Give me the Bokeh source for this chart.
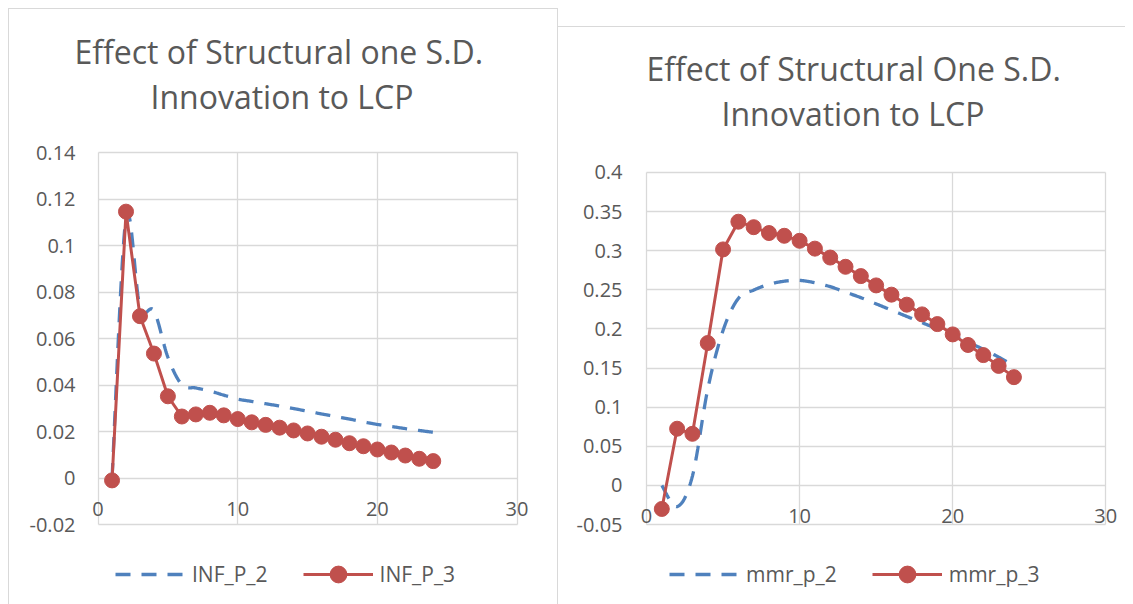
import numpy as np
from bokeh.plotting import figure
from bokeh.models import Title, Legend, LegendItem, FixedTicker, NumeralTickFormatter, Range1d
from bokeh.layouts import row, column
from bokeh.embed import file_html
from bokeh.resources import INLINE

# ---------------- data ----------------
periods = list(range(1, 25))

inf_p_2 = [0.000, 0.1120, 0.0735, 0.0720, 0.0520, 0.0402, 0.0388, 0.0375, 0.0357, 0.0340,
           0.0330, 0.0320, 0.0310, 0.0299, 0.0288, 0.0276, 0.0265, 0.0254, 0.0242, 0.0231,
           0.0222, 0.0213, 0.0205, 0.0197]
inf_p_3 = [-0.001, 0.1147, 0.0697, 0.0536, 0.0352, 0.0265, 0.0274, 0.0281, 0.0270, 0.0254,
           0.0240, 0.0229, 0.0217, 0.0205, 0.0192, 0.0178, 0.0165, 0.0150, 0.0137, 0.0123,
           0.0110, 0.0097, 0.0083, 0.0073]

mmr_p_2 = [0.000, -0.027, 0.012, 0.123, 0.198, 0.239, 0.2496, 0.257, 0.261, 0.262,
           0.259, 0.254, 0.247, 0.240, 0.232, 0.224, 0.216, 0.208, 0.200, 0.192,
           0.183, 0.174, 0.164, 0.153]
mmr_p_3 = [-0.030, 0.0725, 0.066, 0.182, 0.3016, 0.337, 0.330, 0.3225, 0.319, 0.3126,
           0.3026, 0.2912, 0.2794, 0.2675, 0.2556, 0.2438, 0.231, 0.2186, 0.2062, 0.193,
           0.1795, 0.1666, 0.1528, 0.1384]

left_names = ["INF_P_2", "INF_P_3"]
right_names = ["mmr_p_2", "mmr_p_3"]
left_title = ["Effect of Structural one S.D.", "Innovation to LCP"]
right_title = ["Effect of Structural One S.D.", "Innovation to LCP"]

x_ticks = [0, 10, 20, 30]
left_y_ticks = [-0.02, 0, 0.02, 0.04, 0.06, 0.08, 0.1, 0.12, 0.14]
right_y_ticks = [-0.05, 0, 0.05, 0.1, 0.15, 0.2, 0.25, 0.3, 0.35, 0.4]

# ---------------- style ----------------
BLUE = "#4F81BD"
RED = "#C0504D"
GRID = "#D9D9D9"
TEXT = "#595959"
FONT = "Open Sans"
BORDER = "1px solid #D9D9D9"
DASH = "15 11"


def smooth_path(xs, ys, n=20):
    """Excel-like smoothed line: cubic Bezier segments with Catmull-Rom control points."""
    pts = np.column_stack([np.asarray(xs, float), np.asarray(ys, float)])
    m = len(pts)
    out = [pts[0]]
    t = np.linspace(0, 1, n + 1)[1:, None]
    for i in range(m - 1):
        p0 = pts[i - 1] if i > 0 else pts[i]
        p1 = pts[i]
        p2 = pts[i + 1]
        p3 = pts[i + 2] if i + 2 < m else pts[i + 1]
        c1 = p1 + (p2 - p0) / 6.0
        c2 = p2 - (p3 - p1) / 6.0
        seg = ((1 - t) ** 3) * p1 + 3 * ((1 - t) ** 2) * t * c1 + 3 * (1 - t) * t ** 2 * c2 + t ** 3 * p2
        out.extend(seg)
    out = np.array(out)
    return out[:, 0], out[:, 1]


def draw_series(p, s2, s3):
    sx, sy = smooth_path(periods, s2)
    r2 = p.line(sx, sy, line_color=BLUE, line_width=3.3, line_dash=DASH)
    r3l = p.line(periods, s3, line_color=RED, line_width=3)
    r3s = p.scatter(periods, s3, size=15, marker="circle", fill_color=RED, line_color=RED)
    return r2, r3l, r3s


def make_plot(s2, s3, title_lines, yticks, xr, yr, xaxis_at, width, height, mb,
              title_offsets, styles):
    p = figure(width=width, height=height, x_range=Range1d(*xr), y_range=Range1d(*yr),
               output_backend="svg", toolbar_location=None, title=None,
               min_border_left=mb[0], min_border_right=mb[1],
               min_border_top=mb[2], min_border_bottom=mb[3], styles=styles)
    p.outline_line_color = None
    p.background_fill_color = "white"
    p.border_fill_color = "white"

    p.xaxis.ticker = FixedTicker(ticks=x_ticks)
    p.yaxis.ticker = FixedTicker(ticks=yticks)
    p.yaxis.formatter = NumeralTickFormatter(format="0.[00]")
    p.xaxis.formatter = NumeralTickFormatter(format="0")
    p.xaxis.fixed_location = xaxis_at          # x labels sit just under the zero line
    for ax in (p.xaxis, p.yaxis):
        ax.axis_line_color = None
        ax.major_tick_line_color = None
        ax.minor_tick_line_color = None
        ax.major_tick_out = 0
        ax.major_tick_in = 0
        ax.major_label_text_font = FONT
        ax.major_label_text_font_size = "20px"
        ax.major_label_text_color = TEXT
    p.xaxis.major_label_standoff = 0
    p.yaxis.major_label_standoff = 4

    # gridlines (plot-area edges included) limited to the plot area
    p.xgrid.grid_line_color = GRID
    p.ygrid.grid_line_color = GRID
    p.xgrid.grid_line_width = 1.3
    p.ygrid.grid_line_width = 1.3
    p.xgrid.cross_bounds = (yticks[0], yticks[-1])
    p.ygrid.cross_bounds = (x_ticks[0], x_ticks[-1])

    draw_series(p, s2, s3)

    # two-line title: the line added first sits nearest the plot
    p.add_layout(Title(text=title_lines[1], align="left", offset=title_offsets[1], standoff=0,
                       vertical_align="middle", text_font=FONT, text_font_size="32px",
                       text_font_style="normal", text_color=TEXT), "above")
    p.add_layout(Title(text=title_lines[0], align="left", offset=title_offsets[0], standoff=0,
                       vertical_align="middle", text_font=FONT, text_font_size="32px",
                       text_font_style="normal", text_color=TEXT), "above")
    return p


def make_legend(s2, s3, names, width, height, loc, styles):
    # legend strip under the chart; its view window lies away from the data so only the legend shows
    lf = figure(width=width, height=height, x_range=Range1d(100, 101), y_range=Range1d(100, 101),
                output_backend="svg", toolbar_location=None, title=None,
                x_axis_location=None, y_axis_location=None,
                min_border=0, min_border_left=0, min_border_right=0,
                min_border_top=0, min_border_bottom=0, styles=styles)
    lf.outline_line_color = None
    lf.grid.visible = False
    lf.background_fill_color = "white"
    lf.border_fill_color = "white"
    r2, r3l, r3s = draw_series(lf, s2, s3)
    legend = Legend(items=[LegendItem(label=names[0], renderers=[r2]),
                           LegendItem(label=names[1], renderers=[r3l, r3s])],
                    location=loc, orientation="horizontal",
                    glyph_width=70, glyph_height=42, label_standoff=7, spacing=35,
                    padding=0, margin=0, border_line_color=None, background_fill_alpha=0,
                    label_text_font=FONT, label_text_font_size="21px", label_text_color=TEXT)
    lf.add_layout(legend)
    return lf


# left panel
left_plot = make_plot(inf_p_2, inf_p_3, left_title, left_y_ticks,
                      (-1.3306, 31.1796), (-0.021716, 0.154804), -0.0101,
                      550, 549, (70, 26, 109, 30), (-5, 71),
                      {"border-top": BORDER, "border-left": BORDER, "border-right": BORDER})
left_leg = make_legend(inf_p_2, inf_p_3, left_names, 550, 47, (36, 9),
                       {"border-left": BORDER, "border-right": BORDER})
left_col = column(left_plot, left_leg, spacing=0, margin=(8, 0, 0, 8))

# right panel
right_plot = make_plot(mmr_p_2, mmr_p_3, right_title, right_y_ticks,
                       (-1.3063, 31.2214), (-0.05369, 0.44714), -0.0298,
                       567, 530, (68, 1, 108, 30), (20, 95),
                       {"border-top": BORDER})
right_leg = make_legend(mmr_p_2, mmr_p_3, right_names, 567, 48, (43, 9), {})
right_col = column(right_plot, right_leg, spacing=0, margin=(26, 0, 0, 0))

layout = row(left_col, right_col, spacing=0)
open("out.html", "w").write(file_html(layout, INLINE))
